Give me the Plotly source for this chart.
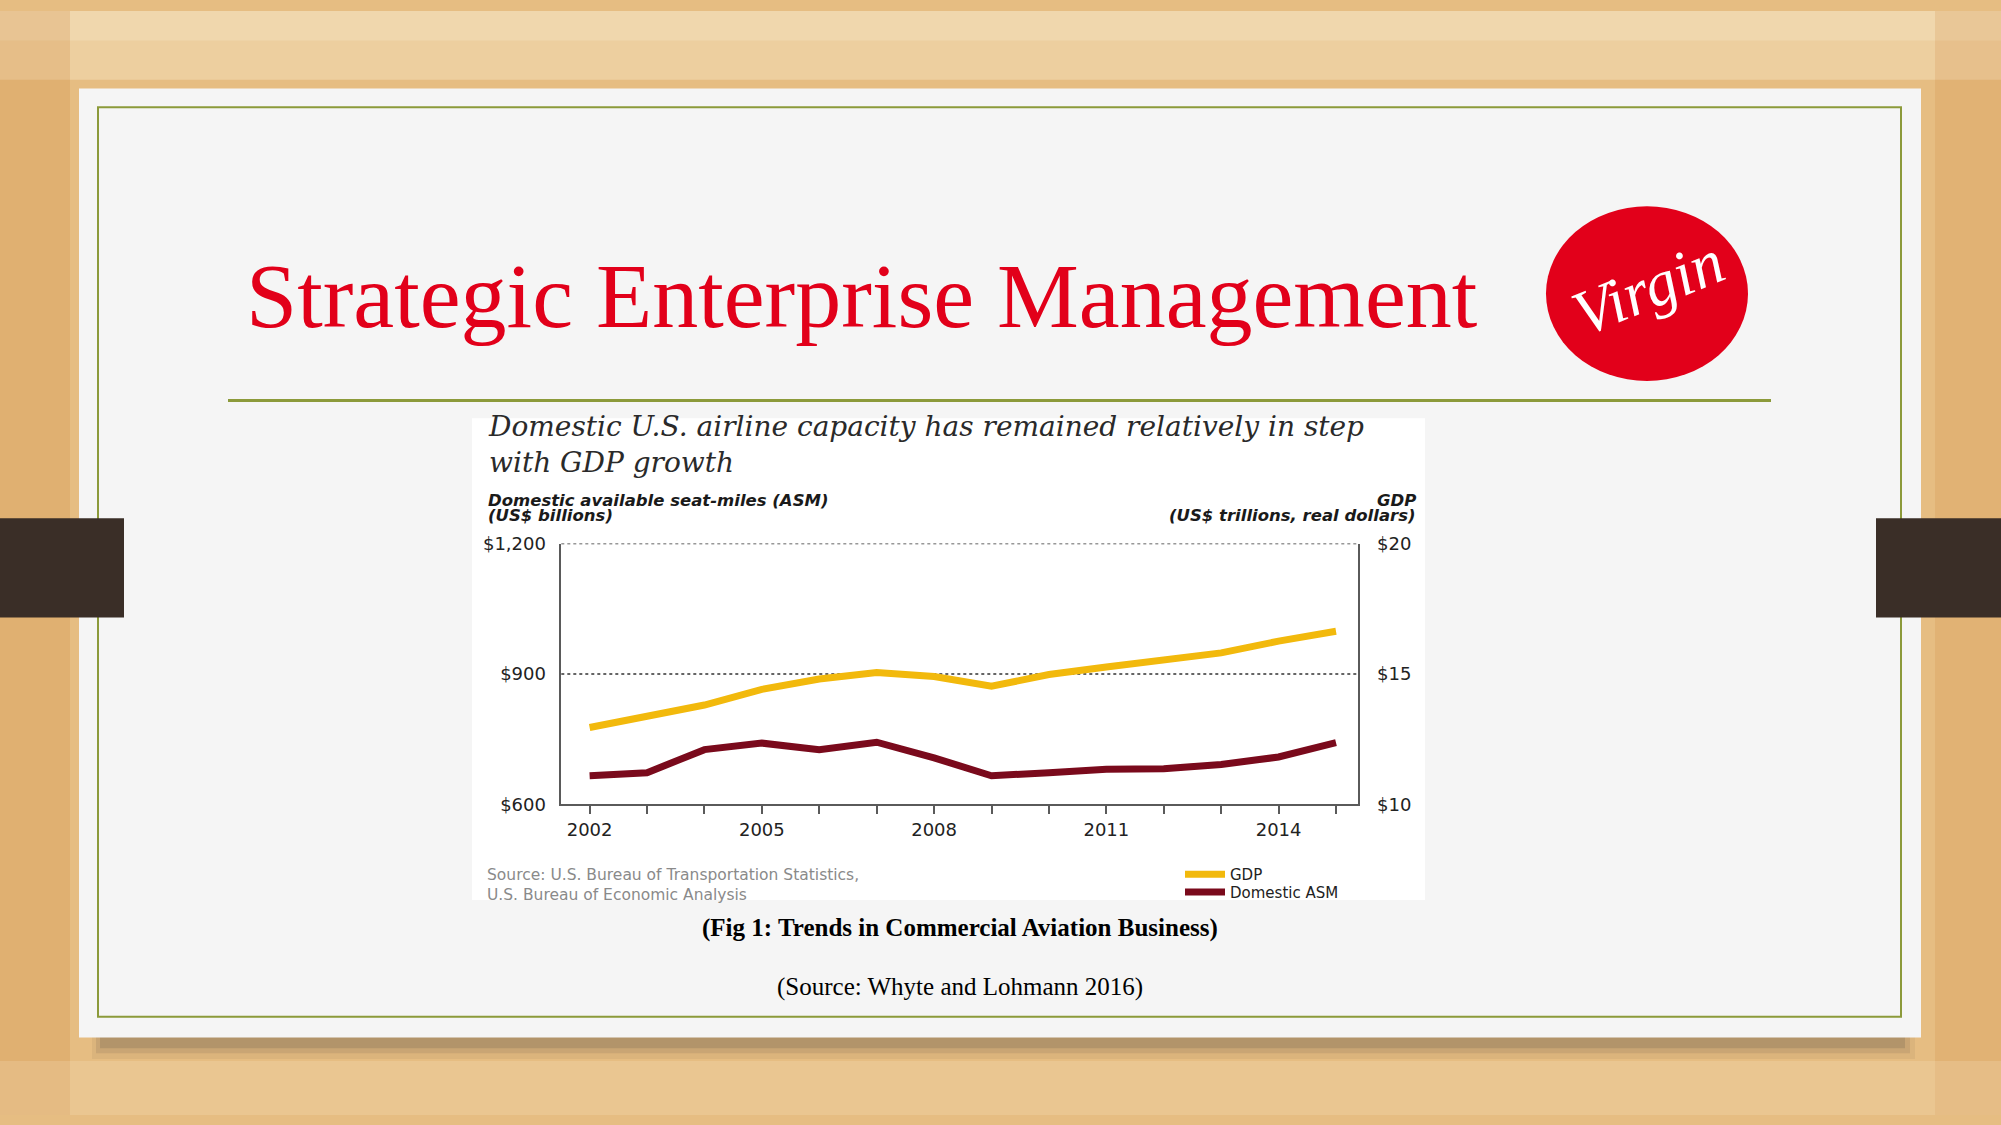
import plotly.graph_objects as go

# ---------------- data ----------------
years = list(range(2002, 2016))
asm_billions = [666, 673, 726, 741, 726, 743, 707, 666, 673, 681, 682, 692, 709, 742]
gdp_trillions = [12.95, 13.39, 13.81, 14.41, 14.81, 15.06, 14.90, 14.53, 14.98, 15.27,
                 15.55, 15.81, 16.26, 16.64]
x_labelled = [2002, 2005, 2008, 2011, 2014]
x_tick_text = [str(y) if y in x_labelled else "" for y in years]
left_tick_vals = [600, 900, 1200]
left_tick_text = ["$600", "$900", "$1,200"]
grid_levels = [900, 1200]
right_tick_vals = [10, 15, 20]
right_tick_text = ["$10", "$15", "$20"]
series_names = ["GDP", "Domestic ASM"]

W, H = 2001, 1125


def fx(x):
    return x / W


def fy(y):
    return 1 - y / H


GDP_COLOR = "#F2B90C"
ASM_COLOR = "#7A0A1C"
AXIS_COLOR = "#5a5a5a"
GREEN = "#8C9A3A"
RED = "#E2001A"

fig = go.Figure()
fig.add_trace(go.Scatter(x=years, y=gdp_trillions, name=series_names[0], mode="lines",
                         line=dict(color=GDP_COLOR, width=7), yaxis="y2",
                         legend="legend", hoverinfo="skip"))
fig.add_trace(go.Scatter(x=years, y=asm_billions, name=series_names[1], mode="lines",
                         line=dict(color=ASM_COLOR, width=7), yaxis="y",
                         legend="legend2", hoverinfo="skip"))

shapes = []


def rect(x0, y0, x1, y1, fill, line_color=None, lw=0, layer="below", kind="rect"):
    shapes.append(dict(type=kind, xref="paper", yref="paper",
                       x0=fx(x0), x1=fx(x1), y0=fy(y1), y1=fy(y0),
                       fillcolor=fill, layer=layer,
                       line=dict(color=line_color or "rgba(0,0,0,0)", width=lw)))


# wood texture approximation
rect(0, 0, W, 70, "rgba(255,248,230,0.30)")
rect(0, 0, W, 30, "rgba(255,248,230,0.20)")
rect(0, 0, 70, H, "rgba(205,130,55,0.22)")
rect(1935, 0, W, H, "rgba(205,130,55,0.18)")
rect(0, 1070, W, H, "rgba(255,240,215,0.18)")

# card shadow (soft)
rect(92, 1036, 1915, 1068, "rgba(90,80,70,0.08)")
rect(96, 1040, 1910, 1062, "rgba(90,80,70,0.14)")
rect(100, 1043, 1905, 1057, "rgba(90,80,70,0.20)")
# card
rect(79, 79, 1921, 1046, "#F5F5F5")
# green frame
rect(98, 98, 1901, 1025, "rgba(0,0,0,0)", GREEN, 2)
# title rule
shapes.append(dict(type="line", xref="paper", yref="paper", x0=fx(228), x1=fx(1771),
                   y0=fy(397), y1=fy(397), line=dict(color=GREEN, width=3), layer="below"))
# side tabs
rect(0, 517, 124, 618, "#3A2E27")
rect(1876, 517, W, 618, "#3A2E27")
# chart picture background
rect(472, 415, 1425, 906, "#FFFFFF")
# logo
rect(1546, 199, 1748, 377, RED, kind="circle")

# dotted horizontal reference lines on the left value axis
for g in grid_levels:
    shapes.append(dict(type="line", xref="x domain", yref="y", x0=0, x1=1, y0=g, y1=g,
                       line=dict(color="#333333", width=1.5, dash="dot"), layer="below"))

fig.update_layout(shapes=shapes)

ann = []


def text(x, y, s, size, color, family, xanchor="left", yanchor="middle", angle=0,
         align="left"):
    ann.append(dict(x=fx(x), y=fy(y), xref="paper", yref="paper", text=s, showarrow=False,
                    xanchor=xanchor, yanchor=yanchor, textangle=angle, align=align,
                    font=dict(size=size, color=color, family=family)))


text(244, 290, "Strategic Enterprise Management", 92, RED, "Liberation Serif")
text(1648, 282, "<i>Virgin</i>", 64, "#FFFFFF", "Liberation Serif", xanchor="center",
     angle=-22)
text(486, 442, "<i>Domestic U.S. airline capacity has remained relatively in step<br>"
               "with GDP growth</i>", 28, "#2a2a2a", "DejaVu Serif")
text(486, 499, "<b><i>Domestic available seat-miles (ASM)</i></b>", 16.5, "#1a1a1a",
     "DejaVu Sans")
text(486, 514, "<b><i>(US$ billions)</i></b>", 16.5, "#1a1a1a", "DejaVu Sans")
text(1418, 499, "<b><i>GDP</i></b>", 16.5, "#1a1a1a", "DejaVu Sans", xanchor="right")
text(1418, 514, "<b><i>(US$ trillions, real dollars)</i></b>", 16.5, "#1a1a1a",
     "DejaVu Sans", xanchor="right")
text(485, 891, "Source: U.S. Bureau of Transportation Statistics,<br>"
               "U.S. Bureau of Economic Analysis", 15.5, "#8a8a8a", "DejaVu Sans")
text(960, 934, "<b>(Fig 1: Trends in Commercial Aviation Business)</b>", 25, "#000000",
     "Liberation Serif", xanchor="center")
text(960, 995, "(Source: Whyte and Lohmann 2016)", 25, "#000000", "Liberation Serif",
     xanchor="center")

tickfont = dict(family="DejaVu Sans", size=18, color="#222222")
legend_font = dict(family="DejaVu Sans", size=15, color="#222222")

fig.update_layout(
    annotations=ann,
    width=W, height=H, autosize=False,
    margin=dict(l=0, r=0, t=0, b=0),
    paper_bgcolor="#E6BD82",
    plot_bgcolor="rgba(0,0,0,0)",
    hovermode=False,
    xaxis=dict(domain=[fx(561.3), fx(1357.7)], range=[2001.507, 2015.378],
               tickmode="array", tickvals=years, ticktext=x_tick_text,
               ticks="outside", ticklen=8, tickwidth=1.5, tickcolor=AXIS_COLOR,
               showline=True, linecolor=AXIS_COLOR, linewidth=1.5,
               showgrid=False, zeroline=False, tickfont=tickfont, fixedrange=True),
    yaxis=dict(domain=[fy(808.5), fy(542.7)], range=[600, 1200],
               tickmode="array", tickvals=left_tick_vals, ticktext=left_tick_text,
               ticks="", showline=True, linecolor=AXIS_COLOR, linewidth=1.5,
               showgrid=False, zeroline=False, tickfont=tickfont, ticklabelstandoff=10,
               fixedrange=True),
    yaxis2=dict(overlaying="y", side="right", anchor="x", range=[10, 20],
                tickmode="array", tickvals=right_tick_vals, ticktext=right_tick_text,
                ticks="", showline=True, linecolor=AXIS_COLOR, linewidth=1.5,
                showgrid=False, zeroline=False, tickfont=tickfont,
                ticklabelstandoff=14, fixedrange=True),
    showlegend=True,
    legend=dict(x=fx(1180), y=fy(880), xanchor="left", yanchor="middle",
                bgcolor="rgba(0,0,0,0)", font=legend_font, itemwidth=40),
    legend2=dict(x=fx(1180), y=fy(898), xanchor="left", yanchor="middle",
                 bgcolor="rgba(0,0,0,0)", font=legend_font, itemwidth=40),
)

fig.write_html("out.html", config={"displayModeBar": False},
               post_script="document.body.style.margin='0';"
                           "document.body.style.overflow='hidden';")
